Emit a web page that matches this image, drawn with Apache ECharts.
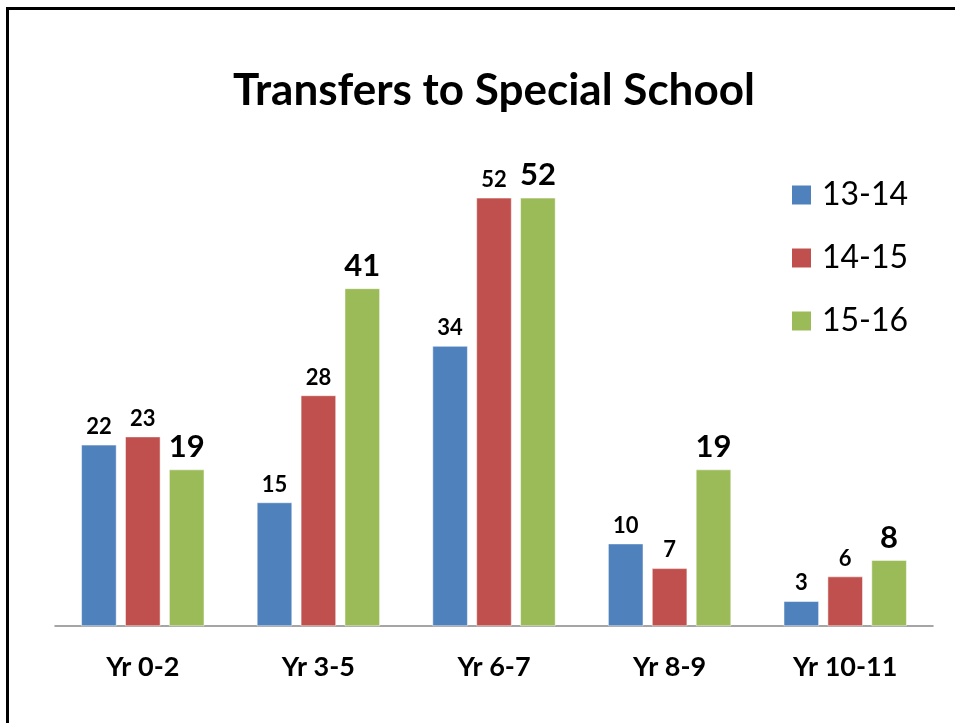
<!DOCTYPE html>
<html>
<head>
<meta charset="utf-8">
<script src="https://cdn.jsdelivr.net/npm/echarts@6/dist/echarts.min.js"></script>
<style>
  html, body { margin: 0; padding: 0; background: #fff; overflow: hidden; }
  #frame { position: absolute; left: 6px; top: 7px; width: 980px; height: 760px; border: 3px solid #000; box-sizing: border-box; }
  #main { position: absolute; left: 0; top: 0; width: 955px; height: 723px; }
</style>
</head>
<body>
<div id="frame"></div>
<div id="main"></div>
<script>
  var categories = ['Yr 0-2', 'Yr 3-5', 'Yr 6-7', 'Yr 8-9', 'Yr 10-11'];
  var seriesNames = ['13-14', '14-15', '15-16'];
  var data1314 = [22, 15, 34, 10, 3];
  var data1415 = [23, 28, 52, 7, 6];
  var data1516 = [19, 41, 52, 19, 8];
  var colors = ['#4f81bd', '#c0504d', '#9bbb59'];

  var font = 'Lato, "Open Sans", sans-serif';
  var myChart = echarts.init(document.getElementById('main'));

  function barSeries(name, data, labelSize) {
    return {
      name: name,
      type: 'bar',
      data: data,
      barGap: '25%',
      barCategoryGap: '30%',
      itemStyle: { borderColor: '#fff', borderWidth: 0.5 },
      label: {
        show: true,
        position: 'top',
        distance: 7,
        color: '#000',
        fontWeight: 'bold',
        fontSize: labelSize,
        fontFamily: font
      }
    };
  }

  var option = {
    animation: false,
    color: colors,
    title: {
      text: 'Transfers to Special School',
      left: 228,
      top: 64,
      textStyle: { fontSize: 44, fontWeight: 'bold', color: '#000', fontFamily: font }
    },
    legend: {
      orient: 'vertical',
      left: 790,
      top: 179,
      padding: 0,
      itemWidth: 21,
      itemHeight: 21,
      itemGap: 31,
      icon: 'rect',
      data: seriesNames,
      textStyle: { fontSize: 32, color: '#000', fontFamily: font, padding: [0, 0, 0, 5] }
    },
    grid: { left: 55, right: 22, top: 132, bottom: 97 },
    xAxis: {
      type: 'category',
      data: categories,
      axisLine: { lineStyle: { color: '#888', width: 1.5 } },
      axisTick: { show: false },
      axisLabel: { fontSize: 27, fontWeight: 'bold', color: '#000', margin: 28, fontFamily: font }
    },
    yAxis: {
      type: 'value',
      min: 0,
      max: 60,
      show: false,
      splitLine: { show: false }
    },
    series: [
      barSeries(seriesNames[0], data1314, 22),
      barSeries(seriesNames[1], data1415, 22),
      barSeries(seriesNames[2], data1516, 31)
    ]
  };

  myChart.setOption(option);
</script>
</body>
</html>
